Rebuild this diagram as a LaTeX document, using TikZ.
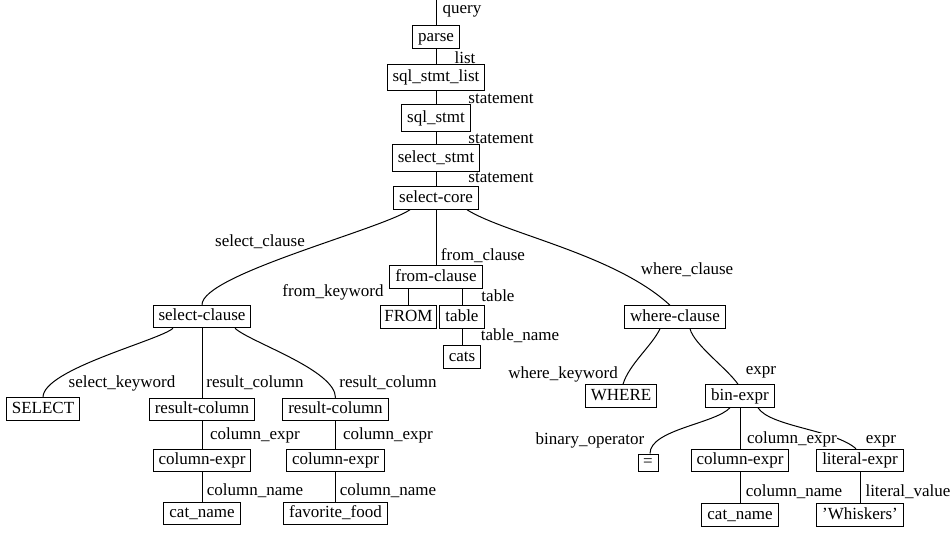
\documentclass[tikz,border=0pt]{standalone}
\usepackage{fontspec}
\setmainfont{Liberation Serif}
\begin{document}
\begin{tikzpicture}[x=0.6pt,y=-0.6pt,
  every node/.style={font=\fontsize{10.2}{12}\selectfont},
  tn/.style={draw, line width=0.6pt, inner xsep=3.3pt, inner ysep=1.9pt, text height=7.3pt, text depth=2.4pt},
  tall/.style={minimum height=15.9pt},
  eqbox/.style={draw, line width=0.6pt, inner sep=0pt, minimum width=12pt, minimum height=10.2pt, text height=5pt, text depth=0pt},
  lb/.style={inner sep=0.5pt, text height=7.3pt, text depth=2.4pt},
  ed/.style={line width=0.6pt}]
\useasboundingbox (0,0) rectangle (952,533);
% tree nodes
\node[tn] (parse) at (436,37) {parse};
\node[tn,tall] (sqllist) at (436,77.5) {sql\_stmt\_list};
\node[tn,tall] (sqlstmt) at (436,118) {sql\_stmt};
\node[tn,tall] (selstmt) at (436,158) {select\_stmt};
\node[tn] (score) at (436,198) {select-core};
\node[tn] (fromcl) at (436,277) {from-clause};
\node[tn,inner xsep=2.5pt] (fromkw) at (408.5,317) {FROM};
\node[tn] (table) at (462,317) {table};
\node[tn] (cats) at (462,357) {cats};
\node[tn] (selcl) at (202,316.5) {select-clause};
\node[tn] (selkw) at (43,409) {SELECT};
\node[tn] (rc1) at (202,409.5) {result-column};
\node[tn] (rc2) at (335.5,409.5) {result-column};
\node[tn] (ce1) at (202,460.5) {column-expr};
\node[tn] (ce2) at (335.5,460.5) {column-expr};
\node[tn] (cn1) at (202,513.5) {cat\_name};
\node[tn] (cn2) at (335.5,513.5) {favorite\_food};
\node[tn] (wherecl) at (675,317) {where-clause};
\node[tn] (wherekw) at (621,396) {WHERE};
\node[tn] (bin) at (740,396) {bin-expr};
\node[eqbox] (eq) at (648,462.5) {=};
\node[tn] (ce3) at (740,460.5) {column-expr};
\node[tn] (lit) at (860,460.5) {literal-expr};
\node[tn] (cn3) at (740,515) {cat\_name};
\node[tn] (wh) at (860,515) {'Whiskers'};
% straight edges
\coordinate (top) at (436,0);
\draw[ed] (top) -- (parse);
\draw[ed] (parse) -- (sqllist);
\draw[ed] (sqllist) -- (sqlstmt);
\draw[ed] (sqlstmt) -- (selstmt);
\draw[ed] (selstmt) -- (score);
\draw[ed] (score) -- (fromcl);
\draw[ed] (fromcl.south -| fromkw) -- (fromkw);
\draw[ed] (fromcl.south -| table) -- (table);
\draw[ed] (table) -- (cats);
\draw[ed] (selcl) -- (rc1);
\draw[ed] (rc1) -- (ce1);
\draw[ed] (ce1) -- (cn1);
\draw[ed] (rc2) -- (ce2);
\draw[ed] (ce2) -- (cn2);
\draw[ed] (bin) -- (ce3);
\draw[ed] (ce3) -- (cn3);
\draw[ed] (lit) -- (wh);
% curved edges
\draw[ed] ([xshift=-15.6pt]score.south) .. controls +(-30,20) and +(0,-30) .. (selcl.north);
\draw[ed] ([xshift=18.6pt]score.south) .. controls +(38,24) and +(-55,-51) .. ([xshift=-3pt]wherecl.north);
\draw[ed] ([xshift=-17.4pt]selcl.south) .. controls +(-13,12) and +(0,-28) .. (selkw.north);
\draw[ed] ([xshift=19.8pt]selcl.south) .. controls +(15,14) and +(0,-28) .. (rc2.north);
\draw[ed] ([xshift=-9pt]wherecl.south) .. controls +(-8,17) and +(6,-20) .. ([xshift=1.2pt]wherekw.north);
\draw[ed] ([xshift=9pt]wherecl.south) .. controls +(4,16) and +(-11,-16) .. ([xshift=-1.2pt]bin.north);
\draw[ed] ([xshift=-6pt]bin.south) .. controls +(-15,16) and +(0,-24) .. ([xshift=1.2pt]eq.north);
\draw[ed] ([xshift=10.8pt]bin.south) .. controls +(12,19) and +(-21,-19) .. ([xshift=-2.4pt]lit.north);
% edge labels
\node[lb] (lquery) at (462,9) {query};
\node[lb] (llist) at (465,59) {list};
\node[lb] (lst1) at (501,99) {statement};
\node[lb] (lst2) at (501,139) {statement};
\node[lb] (lst3) at (501,178) {statement};
\node[lb] (lselcl) at (260,242) {select\_clause};
\node[lb] (lfromcl) at (483,256) {from\_clause};
\node[lb] (lwherecl) at (687,270) {where\_clause};
\node[lb] (lfromkw) at (333,292) {from\_keyword};
\node[lb] (ltable) at (498,297) {table};
\node[lb] (ltname) at (520,336) {table\_name};
\node[lb] (lselkw) at (122,383) {select\_keyword};
\node[lb] (lrc1) at (255,383) {result\_column};
\node[lb] (lrc2) at (388,383) {result\_column};
\node[lb] (lwherekw) at (563,374) {where\_keyword};
\node[lb] (lexpr1) at (761,370.5) {expr};
\node[lb] (lce1) at (255,435) {column\_expr};
\node[lb] (lce2) at (388,435) {column\_expr};
\node[lb] (lbinop) at (590,440) {binary\_operator};
\node[lb,fill=white,inner sep=0pt,text height=6pt,text depth=2pt] (lce3) at (792,440) {column\_expr};
\node[lb] (lexpr2) at (881,439) {expr};
\node[lb] (lcn1) at (255,491) {column\_name};
\node[lb] (lcn2) at (388,491) {column\_name};
\node[lb] (lcn3) at (794,492) {column\_name};
\node[lb] (llitv) at (908,492) {literal\_value};
\end{tikzpicture}
\end{document}
